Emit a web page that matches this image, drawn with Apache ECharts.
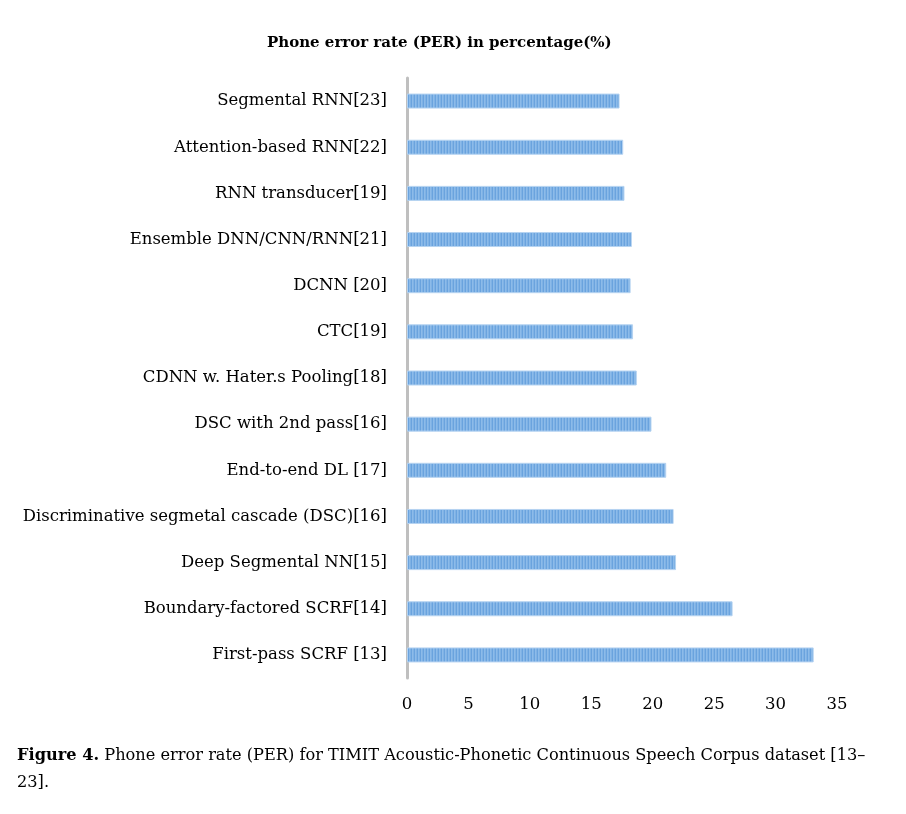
<!DOCTYPE html>
<html>
<head>
<meta charset="utf-8">
<script src="https://cdn.jsdelivr.net/npm/echarts@6/dist/echarts.min.js"></script>
<style>
html,body{margin:0;padding:0;background:#fff;}
#chart{width:906px;height:814px;}
</style>
</head>
<body>
<div id="chart"></div>
<script>
const categories = [
  "First-pass SCRF [13]",
  "Boundary-factored SCRF[14]",
  "Deep Segmental NN[15]",
  "Discriminative segmetal cascade (DSC)[16]",
  "End-to-end DL [17]",
  "DSC with 2nd pass[16]",
  "CDNN w. Hater.s Pooling[18]",
  "CTC[19]",
  "DCNN [20]",
  "Ensemble DNN/CNN/RNN[21]",
  "RNN transducer[19]",
  "Attention-based RNN[22]",
  "Segmental RNN[23]"
];
const perValues = [33.1, 26.5, 21.9, 21.7, 21.1, 19.9, 18.7, 18.4, 18.2, 18.3, 17.7, 17.6, 17.3];
const xTicks = [0, 5, 10, 15, 20, 25, 30, 35];

const chartTitle = "Phone error rate (PER) in percentage(%)";
const captionBold = "Figure 4.";
const captionLine1 = " Phone error rate (PER) for TIMIT Acoustic-Phonetic Continuous Speech Corpus dataset [13–";
const captionLine2 = "23].";

// stripe pattern
const pc = document.createElement('canvas');
pc.width = 3; pc.height = 4;
const pctx = pc.getContext('2d');
const cols = ['#6aa3de', '#8dbbe9', '#7fb2e5'];
for (let i = 0; i < 3; i++) { pctx.fillStyle = cols[i]; pctx.fillRect(i, 0, 1, 4); }

const font = "'DejaVu Serif', 'Liberation Serif', serif";
const chart = echarts.init(document.getElementById('chart'), null, {renderer: 'canvas'});
chart.setOption({
  backgroundColor: '#fff',
  animation: false,
  title: {
    text: chartTitle,
    left: 262, top: 31,
    textStyle: {fontFamily: font, fontWeight: 'bold', fontSize: 15, color: '#000'}
  },
  grid: {left: 407, right: 69, top: 78, bottom: 136, containLabel: false},
  xAxis: {
    type: 'value', min: 0, max: 35, interval: 5,
    axisLine: {show: false}, axisTick: {show: false}, splitLine: {show: false},
    axisLabel: {fontFamily: font, fontSize: 16.5, color: '#000', margin: 18,
      formatter: v => xTicks.includes(v) ? String(v) : ''}
  },
  yAxis: {
    type: 'category', data: categories,
    axisLine: {show: true, lineStyle: {color: '#bfbfbf', width: 3}},
    axisTick: {show: false},
    axisLabel: {fontFamily: font, fontSize: 16.5, color: '#000', margin: 20}
  },
  series: [{
    type: 'bar', data: perValues, barWidth: 15,
    itemStyle: {color: {image: pc, repeat: 'repeat'}, borderColor: '#b5d3f1', borderWidth: 1}
  }],
  graphic: [{
    type: 'text', left: 17, top: 748,
    style: {
      text: '{b|' + captionBold + '}{n|' + captionLine1 + '}\n{n|' + captionLine2 + '}',
      rich: {
        b: {fontFamily: font, fontWeight: 'bold', fontSize: 16.2, fill: '#000', lineHeight: 27},
        n: {fontFamily: font, fontSize: 16.2, fill: '#000', lineHeight: 27}
      }
    }
  }]
});
</script>
</body>
</html>
